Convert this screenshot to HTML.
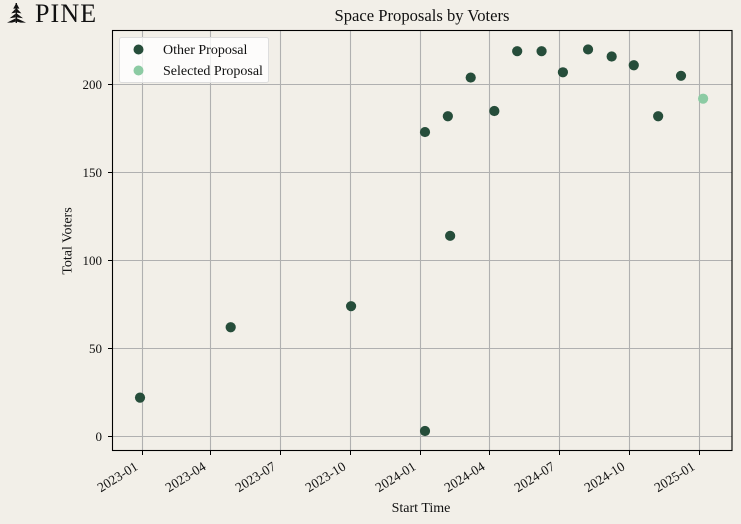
<!DOCTYPE html>
<html lang="en">
<head>
<meta charset="utf-8">
<title>Space Proposals by Voters</title>
<style>
html,body{margin:0;padding:0;background:#f2efe8;}
svg{display:block;font-family:"Liberation Serif",serif;}
text{fill:#111;}
</style>
</head>
<body>
<svg id="chart" width="741" height="524" viewBox="0 0 741 524" xmlns="http://www.w3.org/2000/svg">
  <rect x="0" y="0" width="741" height="524" fill="#f2efe8"/>
  <g id="logo">
    <g fill="#111">
      <rect x="15.6" y="3" width="1.4" height="20"/>
      <path d="M16.3 3 L19.4 8.6 L13.2 8.6 Z"/>
      <path d="M15.6 8.8 L15.6 12.6 L11.2 13.4 Z"/>
      <path d="M17 8.8 L17 12.6 L21.4 13.4 Z"/>
      <path d="M15.6 13.6 L15.6 17.4 L9.6 18.2 Z"/>
      <path d="M17 13.6 L17 17.4 L23 18.2 Z"/>
      <path d="M15.6 18.4 L15.6 21.6 L12 22.6 L7 22.6 Z"/>
      <path d="M17 18.4 L17 21.6 L20.6 22.6 L26 22.6 Z"/>
    </g>
    <text x="35" y="22" font-size="26" letter-spacing="1.1">PINE</text>
  </g>
  <text x="422" y="21" font-size="16.6" text-anchor="middle">Space Proposals by Voters</text>
  <g id="grid"></g>
  <g id="points"></g>
  <rect x="112.5" y="30.5" width="619.5" height="420" fill="none" stroke="#000" stroke-width="1.1"/>
  <g id="ticks"></g>
  <text x="421" y="512" font-size="14" text-anchor="middle">Start Time</text>
  <text transform="translate(71.5 241) rotate(-90)" font-size="14" text-anchor="middle">Total Voters</text>
  <g>
    <rect x="119.5" y="37.5" width="149" height="45" rx="2" ry="2" fill="#ffffff" fill-opacity="0.8" stroke="#dddddd" stroke-width="1"/>
    <g>
      <circle cx="138.5" cy="49.5" r="5" fill="#264d3a"/>
      <text x="163" y="54" font-size="14">Other Proposal</text>
    </g>
    <g>
      <circle cx="138.5" cy="70.5" r="5" fill="#8ccba3"/>
      <text x="163" y="75" font-size="14">Selected Proposal</text>
    </g>
  </g>
</svg>
<script>
const xTickLabels = ["2023-01","2023-04","2023-07","2023-10","2024-01","2024-04","2024-07","2024-10","2025-01"];
const yTickLabels = [0,50,100,150,200];
const otherDates = ["2022-12-29","2023-04-27","2023-10-02","2024-01-07","2024-01-07","2024-02-06","2024-02-09","2024-03-07","2024-04-07","2024-05-07","2024-06-08","2024-07-06","2024-08-08","2024-09-08","2024-10-07","2024-11-08","2024-12-08"];
const otherVoters = [22,62,74,173,3,182,114,204,185,219,219,207,220,216,211,182,205];
const selectedDates = ["2025-01-06"];
const selectedVoters = [192];

const NS = "http://www.w3.org/2000/svg";
const DAY0 = Date.UTC(2023,0,1);
function days(s){
  const p = s.split("-").map(Number);
  return (Date.UTC(p[0],p[1]-1,p[2]||1)-DAY0)/86400000;
}
function xScale(s){ return 142.3 + days(s)*(699.3-142.3)/731; }
function yScale(v){ return 436.3 - v*(436.3-84.6)/200; }
function make(tag,attrs,parent){
  const el = document.createElementNS(NS,tag);
  for(const k in attrs){ el.setAttribute(k,attrs[k]); }
  parent.appendChild(el);
  return el;
}
const gridG = document.getElementById("grid");
const ticksG = document.getElementById("ticks");
const pointsG = document.getElementById("points");

xTickLabels.forEach(function(lab){
  const x = Math.floor(xScale(lab))+0.5;
  const g = make("line",{x1:x,x2:x,y1:30.5,y2:450.5,stroke:"#b0b0b0","stroke-width":1.1},gridG);
  
  
  const t = make("line",{x1:x,x2:x,y1:450.5,y2:455,stroke:"#000","stroke-width":1},ticksG);
  
  
  const tx = make("text",{"font-size":13.4,"text-anchor":"end",transform:"translate("+(x-8)+" 462) rotate(-32)",dy:"0.6em"},ticksG);
  tx.textContent = lab;
  
  
});
yTickLabels.forEach(function(v){
  const y = Math.floor(yScale(v))+0.5;
  const g = make("line",{x1:112.5,x2:732,y1:y,y2:y,stroke:"#b0b0b0","stroke-width":1.1},gridG);
  
  
  const t = make("line",{x1:108,x2:112.5,y1:y,y2:y,stroke:"#000","stroke-width":1},ticksG);
  
  
  const tx = make("text",{x:102,y:y+4.3,"font-size":13,"text-anchor":"end"},ticksG);
  tx.textContent = String(v);
  
  
});
otherDates.forEach(function(d,i){
  const c = make("circle",{cx:xScale(d),cy:yScale(otherVoters[i]),r:5.1,fill:"#264d3a"},pointsG);
  
  
});
selectedDates.forEach(function(d,i){
  const c = make("circle",{cx:xScale(d),cy:yScale(selectedVoters[i]),r:5.1,fill:"#8ccba3"},pointsG);
  
  
});
</script>
</body>
</html>
